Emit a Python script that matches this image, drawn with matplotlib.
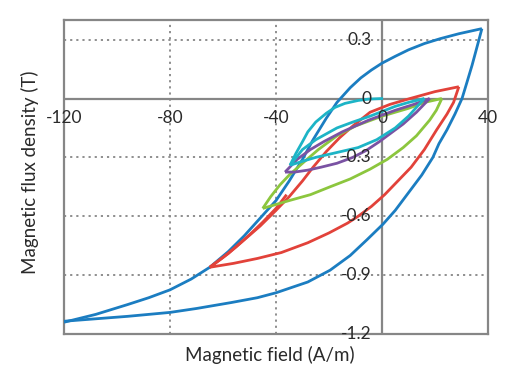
import matplotlib
matplotlib.use("Agg")
import matplotlib.pyplot as plt

plt.rcParams['font.family'] = ['Lato', 'DejaVu Sans']

# Blue major loop
blue_up_x = [-120, -108, -96, -88, -80, -72, -65, -58, -52, -46, -40, -35, -30, -26, -21, -17, -12, -8, -4, 0, 5, 10, 16, 22, 29, 37.7]
blue_up_y = [-1.14, -1.10, -1.05, -1.015, -0.975, -0.92, -0.86, -0.78, -0.70, -0.61, -0.52, -0.42, -0.31, -0.21, -0.10, -0.02, 0.055, 0.105, 0.145, 0.18, 0.215, 0.248, 0.28, 0.305, 0.33, 0.356]
blue_lo_x = [37.7, 36, 34, 32, 30.2, 27.5, 24.5, 21.5, 19.2, 15, 10, 5, 0.4, -5.7, -12, -19.6, -28, -40, -47, -57, -70, -80, -96, -120]
blue_lo_y = [0.356, 0.27, 0.17, 0.08, 0.0, -0.08, -0.16, -0.23, -0.30, -0.39, -0.48, -0.57, -0.64, -0.72, -0.80, -0.875, -0.935, -0.99, -1.015, -1.04, -1.07, -1.09, -1.11, -1.135]

# Red loop
red_up_x = [29, 20, 10.6, 3, -4.5, -11, -16, -21, -26, -30, -35, -40, -46, -52, -58, -65]
red_up_y = [0.06, 0.035, 0.0, -0.03, -0.07, -0.14, -0.20, -0.27, -0.35, -0.42, -0.50, -0.57, -0.65, -0.72, -0.79, -0.86]
red_lo_x = [-65, -56, -47, -38, -28, -20, -13, -9, -4, 1, 6, 11, 16, 20.6, 24.5, 27, 29]
red_lo_y = [-0.86, -0.84, -0.815, -0.785, -0.735, -0.685, -0.635, -0.60, -0.55, -0.49, -0.42, -0.35, -0.26, -0.16, -0.08, -0.02, 0.06]
red_in_x = [-65, -60, -55, -50, -45, -40, -36]
red_in_y = [-0.86, -0.81, -0.755, -0.695, -0.63, -0.56, -0.49]

# Green loop
green_up_x = [22.6, 16, 10, 0, -10, -17, -24, -30, -35, -38.5, -42, -45]
green_up_y = [0.0, -0.02, -0.05, -0.09, -0.14, -0.19, -0.26, -0.33, -0.39, -0.44, -0.50, -0.56]
green_lo_x = [-45, -40, -35, -27, -19.6, -12, -4.5, 2, 8, 13, 18, 20.5, 22.6]
green_lo_y = [-0.56, -0.54, -0.52, -0.49, -0.45, -0.41, -0.36, -0.31, -0.25, -0.19, -0.11, -0.06, 0.0]

# Purple loop
purple_up_x = [18, 12, 5, -5, -15, -22, -27, -32, -36.6]
purple_up_y = [0.0, -0.03, -0.06, -0.11, -0.17, -0.22, -0.26, -0.31, -0.375]
purple_lo_x = [-36.6, -33, -28, -23, -17, -11, -6, -1, 4, 8, 13, 18]
purple_lo_y = [-0.375, -0.375, -0.365, -0.35, -0.33, -0.30, -0.265, -0.22, -0.17, -0.13, -0.07, 0.0]

# Cyan loop
cyan_out_x = [0.4, -5, -9, -14, -17.7, -21, -25, -28, -30, -32.5, -34.7]
cyan_out_y = [0.0, -0.003, -0.01, -0.025, -0.045, -0.075, -0.12, -0.17, -0.22, -0.28, -0.34]
cyan_lo_x = [-34.7, -30, -25, -17, -9, -2, 5, 10, 16]
cyan_lo_y = [-0.34, -0.32, -0.30, -0.275, -0.25, -0.21, -0.15, -0.09, 0.0]
cyan_up_x = [16, 10, 5, -4.5, -11, -17, -25, -30, -34.7]
cyan_up_y = [0.0, -0.02, -0.04, -0.09, -0.12, -0.15, -0.21, -0.26, -0.34]

x_ticks = [-120, -80, -40, 0, 40]
y_ticks = [0.3, 0, -0.3, -0.6, -0.9, -1.2]

fig = plt.figure(figsize=(5.18, 3.84), dpi=100)
ax = fig.add_axes([64/518, 50/384, 424/518, 314/384])
ax.set_xlim(-120, 40)
ax.set_ylim(-1.2, 0.4)

gray = '#868686'
for s in ax.spines.values():
    s.set_color(gray)
    s.set_linewidth(1.6)
ax.set_xticks([])
ax.set_yticks([])

for gx in [-80, -40]:
    ax.axvline(gx, color=gray, ls=(0, (1.2, 2.2)), lw=1.3, zorder=1)
for gy in [0.3, -0.3, -0.6, -0.9]:
    ax.axhline(gy, color=gray, ls=(0, (1.2, 2.2)), lw=1.3, zorder=1)
ax.axhline(0, color=gray, lw=1.6, zorder=1)
ax.axvline(0, color=gray, lw=1.6, zorder=1)

lw = 2.0
c_blue = '#1b7dc1'
c_red = '#e2423a'
c_green = '#8cc63e'
c_purple = '#7a52a3'
c_cyan = '#1db4c6'

def draw(xs, ys, c, z):
    ax.plot(xs, ys, color=c, lw=lw, zorder=z, solid_joinstyle='miter', solid_capstyle='butt')

draw(blue_up_x, blue_up_y, c_blue, 3)
draw(blue_lo_x, blue_lo_y, c_blue, 3)
draw(red_up_x, red_up_y, c_red, 4)
draw(red_lo_x, red_lo_y, c_red, 4)
draw(red_in_x, red_in_y, c_red, 4)
draw(green_up_x, green_up_y, c_green, 5)
draw(green_lo_x, green_lo_y, c_green, 5)
draw(purple_up_x, purple_up_y, c_purple, 6)
draw(purple_lo_x, purple_lo_y, c_purple, 6)
draw(cyan_out_x, cyan_out_y, c_cyan, 7)
draw(cyan_lo_x, cyan_lo_y, c_cyan, 7)
draw(cyan_up_x, cyan_up_y, c_cyan, 7)

tc = '#2a2a2a'
for xv in x_ticks:
    ax.text(xv, -0.1, f"{xv}", ha='center', va='center', fontsize=12.5, color=tc, zorder=10, clip_on=False)
for yv in y_ticks:
    lab = "0" if yv == 0 else f"{yv:.1f}"
    ax.text(-4, yv, lab, ha='right', va='center', fontsize=12.5, color=tc, zorder=10, clip_on=False)

fig.text(270/518, 1 - 355/384, "Magnetic field (A/m)", ha='center', va='center', fontsize=13.5, color=tc)
fig.text(30/518, 1 - 172/384, "Magnetic flux density (T)", ha='center', va='center', rotation=90, fontsize=13.5, color=tc)

fig.savefig("out.png", dpi=100, facecolor='white')
